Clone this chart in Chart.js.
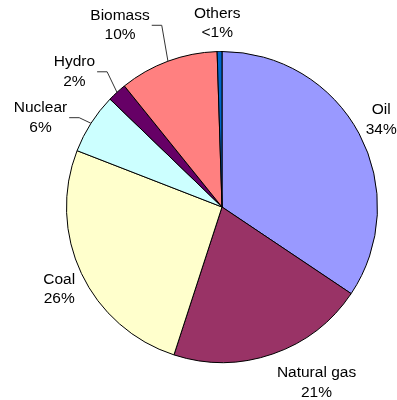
<!DOCTYPE html>
<html>
<head>
<meta charset="utf-8">
<script src="https://cdn.jsdelivr.net/npm/chart.js@4/dist/chart.umd.min.js"></script>
<style>
  html, body { margin: 0; padding: 0; background: #fff; }
  canvas { display: block; }
</style>
</head>
<body>
<canvas id="energyPie" width="397" height="400"></canvas>
<script>
// Share of primary energy supply, by source (percent)
const sources = ['Oil', 'Natural gas', 'Coal', 'Nuclear', 'Hydro', 'Biomass', 'Others'];
const shares  = [34.4, 20.6, 25.9, 6.3, 2.0, 10.3, 0.5];
const colors  = ['#9999FF', '#993366', '#FFFFCC', '#CCFFFF', '#660066', '#FF8080', '#0066CC'];

// where each label sits: angle clockwise from 12 o'clock (deg), distance in radii
const labelAngle = [61.3, 151.7, 243.2, 296.2, 312.5, 330.7, 358.5];
const labelDist  = [1.167, 1.282, 1.173, 1.301, 1.287, 1.34, 1.181];
const hasLeader  = [false, false, false, true, true, true, false];

const FONT = '15.5px "Liberation Sans", Arial, sans-serif';

function pctText(v) {
    return v < 1 ? '<1%' : Math.round(v) + '%';
}

// Draws the two-line labels and the elbow leader lines
const outsideLabels = {
    id: 'outsideLabels',
    afterDatasetsDraw(chart) {
        const ctx = chart.ctx;
        const arcs = chart.getDatasetMeta(0).data;
        ctx.save();
        ctx.font = FONT;
        ctx.fillStyle = '#000';
        ctx.textAlign = 'center';
        ctx.textBaseline = 'middle';
        arcs.forEach((arc, i) => {
            const { x, y, outerRadius: r, startAngle, endAngle } = arc.getProps(['x', 'y', 'outerRadius', 'startAngle', 'endAngle'], true);
            const a = (labelAngle[i] - 90) * Math.PI / 180;
            const lx = x + Math.cos(a) * r * labelDist[i];
            const ly = y + Math.sin(a) * r * labelDist[i];
            const line1 = sources[i];
            const line2 = pctText(shares[i]);
            ctx.fillText(line1, lx, ly - 9.7);
            ctx.fillText(line2, lx, ly + 9.7);

            if (hasLeader[i]) {
                const half = ctx.measureText(line1).width / 2;
                const right = lx + half;
                const mid = (startAngle + endAngle) / 2;
                ctx.beginPath();
                ctx.strokeStyle = '#333';
                ctx.lineWidth = 1;
                ctx.moveTo(right + 2, ly);
                ctx.lineTo(right + 12, ly);
                ctx.lineTo(x + Math.cos(mid) * r, y + Math.sin(mid) * r);
                ctx.stroke();
            }
        });
        ctx.restore();
    }
};

const ctx = document.getElementById('energyPie').getContext('2d');

new Chart(ctx, {
    type: 'pie',
    data: {
        labels: sources,
        datasets: [{
            data: shares,
            backgroundColor: colors,
            borderColor: '#000',
            borderWidth: 1
        }]
    },
    options: {
        responsive: false,
        animation: false,
        layout: { padding: { left: 66, right: 19, top: 51, bottom: 37 } },
        plugins: {
            legend: { display: false },
            tooltip: { enabled: false }
        }
    },
    plugins: [outsideLabels]
});
</script>
</body>
</html>
